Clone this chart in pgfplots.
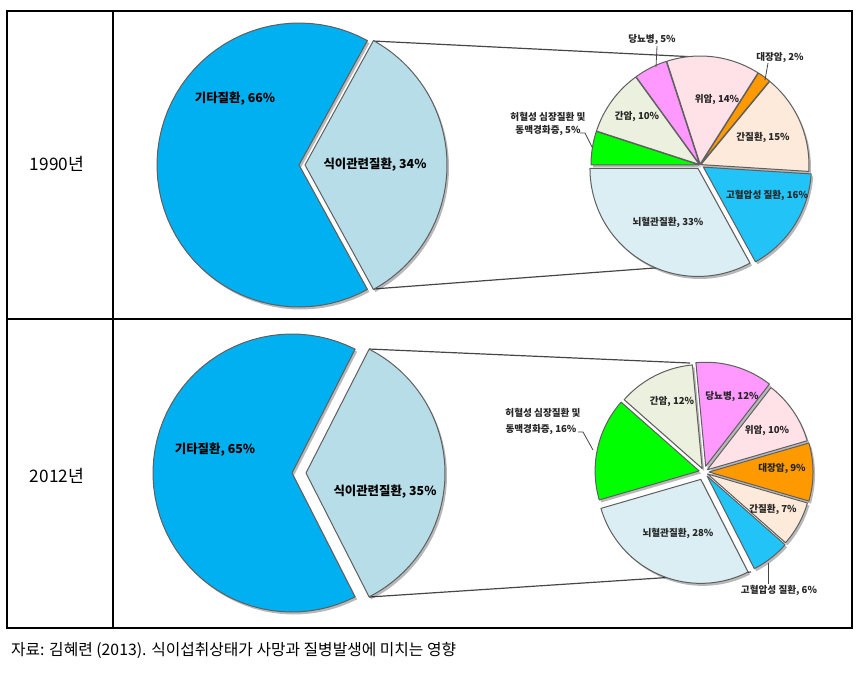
\documentclass[border=0pt]{standalone}
\usepackage{fontspec}
\setmainfont{Noto Sans CJK KR}
\usepackage{pgfplots}
\pgfplotsset{compat=1.18}

\definecolor{bigblue}{RGB}{0,176,240}
\definecolor{biggray}{RGB}{183,222,232}
\definecolor{cereb}{RGB}{218,238,243}
\definecolor{hyper}{RGB}{34,196,248}
\definecolor{liver}{RGB}{253,234,218}
\definecolor{colon}{RGB}{255,153,0}
\definecolor{stomach}{RGB}{255,225,232}
\definecolor{diab}{RGB}{255,153,255}
\definecolor{lcancer}{RGB}{235,241,222}
\definecolor{ischem}{RGB}{0,255,0}
\definecolor{slicegray}{RGB}{95,95,95}
\definecolor{linegray}{RGB}{70,70,70}

% one slice: cx, cy, r, percent, colour, explode (px); mode 0 = shadow, 1 = fill
\newcommand{\pieslice}[7]{%
  \pgfmathsetmacro{\pa}{\curang}%
  \pgfmathsetmacro{\pb}{\curang+#4*3.6}%
  \pgfmathsetmacro{\pmid}{\curang+#4*1.8}%
  \pgfmathsetmacro{\pcx}{#1+#6*cos(\pmid)}%
  \pgfmathsetmacro{\pcy}{#2-#6*sin(\pmid)}%
  \ifnum#7=0
    \pgfmathsetmacro{\pcx}{\pcx+2}%
    \pgfmathsetmacro{\pcy}{\pcy+2.5}%
    \edef\doslice{\noexpand\addplot[draw=none, fill=black, fill opacity=0.28, domain=\pa:\pb, samples=60] ({\pcx+#3*cos(x)},{\pcy-#3*sin(x)}) -- (axis cs:\pcx,\pcy) -- cycle;}%
  \else
    \edef\doslice{\noexpand\addplot[fill=#5, draw=slicegray, line width=0.5pt, line join=round, domain=\pa:\pb, samples=60] ({\pcx+#3*cos(x)},{\pcy-#3*sin(x)}) -- (axis cs:\pcx,\pcy) -- cycle;}%
  \fi
  \doslice
  \xdef\curang{\pb}%
}
% whole pie: cx, cy, r, start angle, list pct/colour/explode
\newcommand{\drawpie}[5]{%
  \xdef\curang{#4}%
  \foreach \p/\c/\e in {#5} {\pieslice{#1}{#2}{#3}{\p}{\c}{\e}{0}}%
  \xdef\curang{#4}%
  \foreach \p/\c/\e in {#5} {\pieslice{#1}{#2}{#3}{\p}{\c}{\e}{1}}%
}

\begin{document}
\begin{tikzpicture}
\begin{axis}[
  width=430pt, height=338.5pt, scale only axis,
  xmin=0, xmax=860, ymin=0, ymax=677, y dir=reverse,
  hide axis, clip=false]
\path[draw=none] (axis cs:0,0) rectangle (axis cs:860,677);

% table frame
\draw[black, line width=1pt] (axis cs:7,11) rectangle (axis cs:852,628);
\draw[black, line width=1pt] (axis cs:7,319) -- (axis cs:852,319);
\draw[black, line width=1pt] (axis cs:113,11) -- (axis cs:113,628);

\node[font=\fontsize{8.6}{9}\selectfont] at (axis cs:57,164) {1990년};
\node[font=\fontsize{8.6}{9}\selectfont] at (axis cs:57,476) {2012년};
\node[font=\fontsize{7.9}{9}\selectfont, anchor=west] at (axis cs:4,650) {자료: 김혜련 (2013). 식이섭취상태가 사망과 질병발생에 미치는 영향};

% connector lines
\draw[linegray, line width=0.6pt] (axis cs:373,41) -- (axis cs:697,57);
\draw[linegray, line width=0.6pt] (axis cs:373,289) -- (axis cs:748,261);
\draw[linegray, line width=0.6pt] (axis cs:369,349) -- (axis cs:690,363);
\draw[linegray, line width=0.6pt] (axis cs:369,597) -- (axis cs:751,572);

% 1990 pies
\drawpie{299}{165}{142}{61.2}{66/bigblue/0, 34/biggray/6}
\drawpie{700}{165}{108}{180}{33/cereb/4, 16/hyper/4, 15/liver/1, 2/colon/1, 14/stomach/1, 5/diab/1, 10/lcancer/1, 5/ischem/1}

% 2012 pies
\drawpie{292}{473}{139}{63}{65/bigblue/0, 35/biggray/14}
\drawpie{704}{472}{104}{196.2}{28/cereb/8, 6/hyper/5, 7/liver/4, 9/colon/5, 10/stomach/4, 12/diab/6, 12/lcancer/4, 16/ischem/5}

% big pie labels
\node[font=\bfseries\fontsize{6.2}{7}\selectfont] at (axis cs:235,99) {기타질환, 66\%};
\node[font=\bfseries\fontsize{6.2}{7}\selectfont] at (axis cs:375,165) {식이관련질환, 34\%};
\node[font=\bfseries\fontsize{6.2}{7}\selectfont] at (axis cs:215,450) {기타질환, 65\%};
\node[font=\bfseries\fontsize{6.2}{7}\selectfont] at (axis cs:385,492) {식이관련질환, 35\%};

\begin{scope}[every node/.style={font=\bfseries\fontsize{4.8}{5.5}\selectfont, text=black!85}]
% labels 1990
\node at (axis cs:652,40) {당뇨병, 5\%};
\node at (axis cs:780,58) {대장암, 2\%};
\node at (axis cs:717,100) {위암, 14\%};
\node at (axis cs:637,117) {간암, 10\%};
\node at (axis cs:763,138) {간질환, 15\%};
\node at (axis cs:548,117) {허혈성 심장질환 및};
\node at (axis cs:548,131) {동맥경화증, 5\%};
\node at (axis cs:767,195) {고혈압성 질환, 16\%};
\node at (axis cs:668,222) {뇌혈관질환, 33\%};
% labels 2012
\node at (axis cs:672,402) {간암, 12\%};
\node at (axis cs:732,397) {당뇨병, 12\%};
\node at (axis cs:767,431) {위암, 10\%};
\node at (axis cs:782,469) {대장암, 9\%};
\node at (axis cs:773,509) {간질환, 7\%};
\node at (axis cs:678,533) {뇌혈관질환, 28\%};
\node at (axis cs:543,413) {허혈성 심장질환 및};
\node at (axis cs:541,430) {동맥경화증, 16\%};
\node at (axis cs:779,590) {고혈압성 질환, 6\%};
\end{scope}

% leader lines
\draw[linegray, line width=0.4pt] (axis cs:657,46) -- (axis cs:656,67);
\draw[linegray, line width=0.4pt] (axis cs:768,63) -- (axis cs:765,80);
\draw[linegray, line width=0.4pt] (axis cs:580,133) -- (axis cs:585,133) -- (axis cs:592,147);
\draw[linegray, line width=0.4pt] (axis cs:578,432) -- (axis cs:583,432) -- (axis cs:593,450);
\draw[linegray, line width=0.4pt] (axis cs:768,584) -- (axis cs:768,563);
\end{axis}
\end{tikzpicture}
\end{document}
